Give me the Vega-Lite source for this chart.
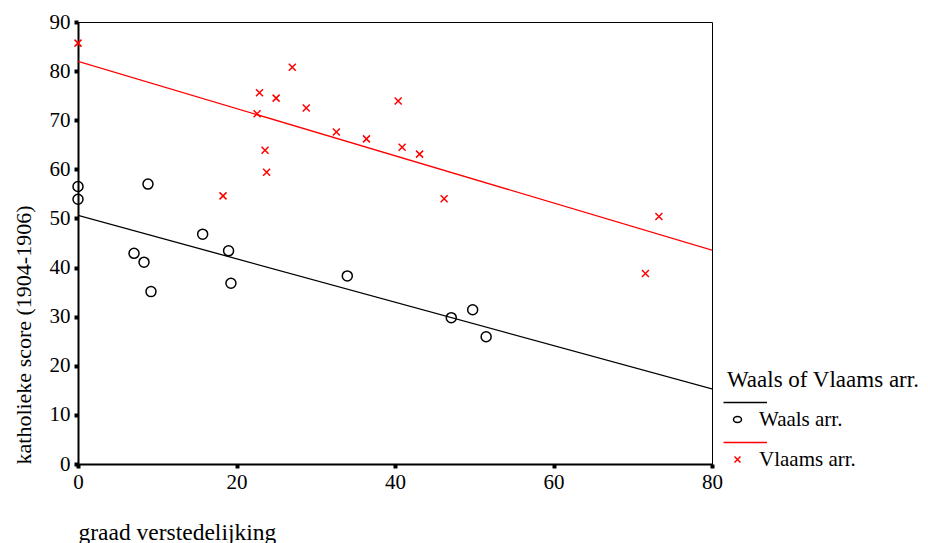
{
  "$schema": "https://vega.github.io/schema/vega-lite/v6.json",
  "width": 634,
  "height": 442,
  "autosize": {"type": "none"},
  "padding": {"left": 78, "top": 22, "right": 216, "bottom": 79},
  "background": "white",
  "config": {
    "font": "Liberation Serif",
    "view": {"stroke": "#000", "strokeWidth": 1},
    "axis": {
      "grid": false,
      "domainColor": "#000",
      "domainWidth": 2,
      "tickColor": "#000",
      "tickSize": 4,
      "tickWidth": 4,
      "labelFont": "Liberation Serif",
      "labelFontSize": 21,
      "labelColor": "#000",
      "labelFlush": false,
      "titleFont": "Liberation Serif",
      "titleFontWeight": "normal",
      "titleColor": "#000"
    },
    "legend": {
      "orient": "none",
      "legendX": 649,
      "legendY": 347,
      "titleFont": "Liberation Serif",
      "titleFontSize": 23,
      "titleFontWeight": "normal",
      "titleColor": "#000",
      "titleLimit": 400,
      "titlePadding": 17,
      "labelFont": "Liberation Serif",
      "labelFontSize": 21,
      "labelColor": "#000",
      "labelOffset": 11,
      "labelLimit": 300,
      "rowPadding": 9,
      "symbolSize": 100,
      "symbolStrokeWidth": 1.5,
      "symbolFillColor": "transparent"
    }
  },
  "data": {
    "values": [
      {"x": 0, "y": 56.5, "group": "Waals arr."},
      {"x": 0, "y": 53.9, "group": "Waals arr."},
      {"x": 8.83, "y": 57.0, "group": "Waals arr."},
      {"x": 7.07, "y": 42.9, "group": "Waals arr."},
      {"x": 8.33, "y": 41.1, "group": "Waals arr."},
      {"x": 9.21, "y": 35.1, "group": "Waals arr."},
      {"x": 15.73, "y": 46.8, "group": "Waals arr."},
      {"x": 19.0, "y": 43.4, "group": "Waals arr."},
      {"x": 19.3, "y": 36.8, "group": "Waals arr."},
      {"x": 33.98, "y": 38.3, "group": "Waals arr."},
      {"x": 47.1, "y": 29.8, "group": "Waals arr."},
      {"x": 49.8, "y": 31.4, "group": "Waals arr."},
      {"x": 51.5, "y": 25.9, "group": "Waals arr."},
      {"x": 0, "y": 85.7, "group": "Vlaams arr."},
      {"x": 27.04, "y": 80.8, "group": "Vlaams arr."},
      {"x": 22.9, "y": 75.6, "group": "Vlaams arr."},
      {"x": 25.0, "y": 74.5, "group": "Vlaams arr."},
      {"x": 28.8, "y": 72.5, "group": "Vlaams arr."},
      {"x": 22.6, "y": 71.3, "group": "Vlaams arr."},
      {"x": 32.6, "y": 67.6, "group": "Vlaams arr."},
      {"x": 36.4, "y": 66.2, "group": "Vlaams arr."},
      {"x": 23.6, "y": 63.9, "group": "Vlaams arr."},
      {"x": 23.8, "y": 59.4, "group": "Vlaams arr."},
      {"x": 18.3, "y": 54.6, "group": "Vlaams arr."},
      {"x": 40.4, "y": 73.9, "group": "Vlaams arr."},
      {"x": 40.9, "y": 64.5, "group": "Vlaams arr."},
      {"x": 43.1, "y": 63.1, "group": "Vlaams arr."},
      {"x": 46.2, "y": 54.0, "group": "Vlaams arr."},
      {"x": 73.3, "y": 50.4, "group": "Vlaams arr."},
      {"x": 71.6, "y": 38.8, "group": "Vlaams arr."}
    ]
  },
  "encoding": {
    "x": {
      "field": "x", "type": "quantitative",
      "scale": {"domain": [0, 80], "nice": false, "zero": false},
      "axis": {"values": [0, 20, 40, 60, 80], "title": "graad verstedelijking", "titleFontSize": 23.5, "titleAnchor": "start", "titlePadding": 28, "labelPadding": 3}
    },
    "y": {
      "field": "y", "type": "quantitative",
      "scale": {"domain": [0, 90], "nice": false},
      "axis": {"values": [0, 10, 20, 30, 40, 50, 60, 70, 80, 90], "title": "katholieke score (1904-1906)", "titleFontSize": 22, "titleAnchor": "start", "titlePadding": 14, "labelPadding": 4}
    },
    "color": {
      "field": "group", "type": "nominal",
      "scale": {"domain": ["Waals arr.", "Vlaams arr."], "range": ["#000000", "#ff0000"]},
      "legend": {
        "title": "Waals of Vlaams arr.",
        "encode": {
          "symbols": {
            "update": {
              "shape": {"signal": "datum.value === 'Waals arr.' ? 'M-2.8,-3.4L5.9,-3.4M0.8,0A0.8,0.6 0 1,1 -0.8,0A0.8,0.6 0 1,1 0.8,0' : 'M-2.8,-3.4L5.9,-3.4M-0.6,-0.6L0.6,0.6M-0.6,0.6L0.6,-0.6'"},
              "fill": {"value": "transparent"}
            }
          }
        }
      }
    }
  },
  "layer": [
    {
      "transform": [{"regression": "y", "on": "x", "groupby": ["group"], "extent": [0, 80]}],
      "mark": {"type": "line", "strokeWidth": 1.3, "clip": true}
    },
    {
      "transform": [{"filter": "datum.group === 'Waals arr.'"}],
      "mark": {"type": "point", "shape": "circle", "filled": false, "size": 100, "strokeWidth": 1.5, "opacity": 1}
    },
    {
      "transform": [{"filter": "datum.group === 'Vlaams arr.'"}],
      "mark": {"type": "point", "shape": "M-0.7,-0.7L0.7,0.7M-0.7,0.7L0.7,-0.7", "filled": false, "size": 100, "strokeWidth": 1.5, "opacity": 1}
    }
  ]
}
